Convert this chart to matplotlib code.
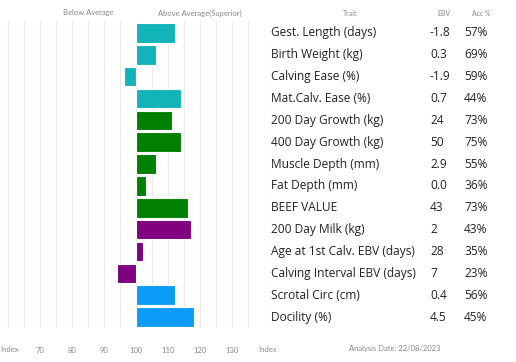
import matplotlib.pyplot as plt
from matplotlib.transforms import blended_transform_factory

traits = ['Gest. Length (days)', 'Birth Weight (kg)', 'Calving Ease (%)',
          'Mat.Calv. Ease (%)', '200 Day Growth (kg)', '400 Day Growth (kg)',
          'Muscle Depth (mm)', 'Fat Depth (mm)', 'BEEF VALUE', '200 Day Milk (kg)',
          'Age at 1st Calv. EBV (days)', 'Calving Interval EBV (days)',
          'Scrotal Circ (cm)', 'Docility (%)']
ebv = ['-1.8', '0.3', '-1.9', '0.7', '24', '50', '2.9', '0.0', '43', '2', '28', '7', '0.4', '4.5']
acc = ['57%', '69%', '59%', '44%', '73%', '75%', '55%', '36%', '73%', '43%', '35%', '23%', '56%', '45%']
index = [112, 106, 96, 114, 111, 114, 106, 103, 116, 117, 102, 94, 112, 118]
groups = ['calving'] * 4 + ['growth'] * 5 + ['maternal'] * 3 + ['other'] * 2
ticks = [70, 80, 90, 100, 110, 120, 130]

colors = {'calving': '#12b4b9', 'growth': '#007f00', 'maternal': '#800080', 'other': '#0a9cf6'}

plt.rcParams['font.family'] = ['Lato', 'DejaVu Sans']
fig = plt.figure(figsize=(5.16, 3.62), dpi=100)
ax = fig.add_axes([2 / 516, 1 - 328 / 362, 262.5 / 516, 306 / 362])

n = len(traits)
ypos = list(range(n))
for x in range(60, 145, 5):
    ax.axvline(x, color='#ebebeb', lw=0.9, zorder=0)
ax.barh(ypos, [v - 100 for v in index], left=100, height=0.9,
        color=[colors[g] for g in groups], edgecolor='white', linewidth=0.8, zorder=2)

ax.set_xlim(58, 140)
ax.set_ylim(n - 0.5, -0.5)
ax.set_yticks([])
ax.set_xticks(ticks)
ax.tick_params(axis='x', length=0, pad=14, labelsize=5.5, labelcolor='#888888')
for s in ax.spines.values():
    s.set_visible(False)

tr = blended_transform_factory(fig.transFigure, ax.transData)
tfont = dict(fontsize=8.6, color='#222222', family='Open Sans', va='center', ha='left', clip_on=False)
for i in range(n):
    ax.text(271 / 516, i, traits[i], transform=tr, **tfont)
    ax.text(430 / 516, i, ebv[i], transform=tr, **tfont)
    ax.text(464 / 516, i, acc[i], transform=tr, **tfont)

head_y = 1 - 13 / 362
gray = '#888888'
fig.text(88 / 516, head_y, 'Below Average', ha='center', va='center', fontsize=5.5, color=gray)
fig.text(200 / 516, head_y, 'Above Average(Superior)', ha='center', va='center', fontsize=5.5, color=gray)
fig.text(350 / 516, head_y, 'Trait', ha='center', va='center', fontsize=5, color=gray)
fig.text(444 / 516, head_y, 'EBV', ha='center', va='center', fontsize=5, color=gray)
fig.text(481 / 516, head_y, 'Acc %', ha='center', va='center', fontsize=5, color=gray)

foot_y = 1 - 349 / 362
fig.text(0 / 516, foot_y, 'Index', ha='left', va='center', fontsize=5.5, color=gray)
fig.text(258 / 516, foot_y, 'Index', ha='left', va='center', fontsize=5.5, color=gray)
fig.text(349 / 516, foot_y, 'Analysis Date: 22/08/2023', ha='left', va='center', fontsize=5.5, color=gray)

fig.savefig('out.png', dpi=100)
